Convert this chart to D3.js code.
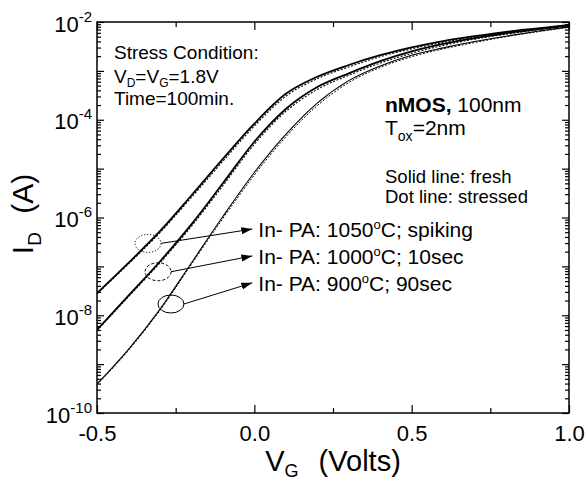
<!DOCTYPE html>
<html>
<head>
<meta charset="utf-8">
<script src="https://cdn.jsdelivr.net/npm/d3@7"></script>
<style>
  html, body { margin: 0; padding: 0; background: #fff; }
  svg { display: block; font-family: "Liberation Sans", Arial, Helvetica, sans-serif; }
</style>
</head>
<body>
<svg id="chart" width="586" height="483"></svg>
<script>
// Gate voltage sweep (V)
const vg = [-0.5, -0.4, -0.3, -0.2, -0.1, 0.0, 0.1, 0.2, 0.3, 0.4, 0.5, 0.6, 0.7, 0.8, 0.9, 1.0];

// log10 of drain current I_D (A): fresh devices (solid) and after stress (dotted)
const fresh1050    = [-7.55, -6.93, -6.28, -5.55, -4.80, -4.08, -3.47, -3.12, -2.88, -2.68, -2.52, -2.39, -2.29, -2.20, -2.13, -2.06];
const stressed1050 = [-7.56, -6.95, -6.31, -5.59, -4.85, -4.13, -3.52, -3.16, -2.92, -2.71, -2.55, -2.42, -2.31, -2.22, -2.14, -2.07];
const fresh1000    = [-8.30, -7.60, -6.90, -6.14, -5.30, -4.45, -3.78, -3.33, -3.05, -2.80, -2.60, -2.45, -2.33, -2.23, -2.15, -2.07];
const stressed1000 = [-8.31, -7.62, -6.93, -6.18, -5.35, -4.50, -3.83, -3.38, -3.09, -2.84, -2.64, -2.48, -2.35, -2.25, -2.16, -2.08];
const fresh900     = [-9.41, -8.70, -7.88, -6.93, -5.98, -5.08, -4.30, -3.66, -3.20, -2.90, -2.68, -2.53, -2.40, -2.29, -2.19, -2.10];
const stressed900  = [-9.42, -8.72, -7.90, -6.96, -6.02, -5.13, -4.35, -3.71, -3.24, -2.93, -2.71, -2.55, -2.42, -2.30, -2.20, -2.11];

// Axis ticks
const xTicks = [-0.5, 0.0, 0.5, 1.0];
const xTickLabels = ["-0.5", "0.0", "0.5", "1.0"];
const xMinorTicks = [-0.25, 0.25, 0.75];
const yDecades = [-10, -9, -8, -7, -6, -5, -4, -3, -2];
const yLabelExponents = [-10, -8, -6, -4, -2];

// Call-outs: oval centre (V, log10 I) and label text for each anneal
const ovalV = [-0.338, -0.306, -0.265];
const ovalLogI = [-6.53, -7.11, -7.77];
const annealTemps = ["1050", "1000", "900"];
const annealTimes = ["spiking", "10sec", "90sec"];
const labelLogI = [-6.40, -6.95, -7.50];

const svg = d3.select("#chart");
const margin = { left: 97, top: 22, right: 569, bottom: 413 };

const x = d3.scaleLinear().domain([-0.5, 1.0]).range([margin.left, margin.right]);
const y = d3.scaleLog().domain([1e-10, 1e-2]).range([margin.bottom, margin.top]);

const yMajor = yDecades.map(e => Math.pow(10, e));
const yMinor = [];
yDecades.slice(0, -1).forEach(e => {
  for (let k = 2; k <= 9; k++) yMinor.push(k * Math.pow(10, e));
});

// Clip for the curves
svg.append("defs").append("clipPath").attr("id", "plotClip")
  .append("rect")
  .attr("x", margin.left).attr("y", margin.top)
  .attr("width", margin.right - margin.left).attr("height", margin.bottom - margin.top);

const marker = svg.select("defs").append("marker")
  .attr("id", "arrowHead")
  .attr("markerUnits", "userSpaceOnUse")
  .attr("markerWidth", 12).attr("markerHeight", 8)
  .attr("refX", 11).attr("refY", 3.5)
  .attr("orient", "auto");
marker.append("path").attr("d", "M0,0 L11,3.5 L0,7 Z").attr("fill", "#000");

function styleAxis(g) {
  g.select(".domain").remove();
  g.selectAll(".tick line").attr("stroke", "#000").attr("stroke-width", 1.2);
}

// Left / right decade ticks and minor log ticks, all pointing inward
svg.append("g").attr("transform", `translate(${margin.left},0)`)
  .call(d3.axisLeft(y).tickValues(yMajor).tickSize(-7).tickFormat(""))
  .call(styleAxis);
svg.append("g").attr("transform", `translate(${margin.left},0)`)
  .call(d3.axisLeft(y).tickValues(yMinor).tickSize(-4).tickFormat(""))
  .call(styleAxis);
svg.append("g").attr("transform", `translate(${margin.right},0)`)
  .call(d3.axisRight(y).tickValues(yMajor).tickSize(-7).tickFormat(""))
  .call(styleAxis);
svg.append("g").attr("transform", `translate(${margin.right},0)`)
  .call(d3.axisRight(y).tickValues(yMinor).tickSize(-4).tickFormat(""))
  .call(styleAxis);

// Bottom / top voltage ticks
const xAxisBottom = svg.append("g").attr("transform", `translate(0,${margin.bottom})`)
  .call(d3.axisBottom(x).tickValues(xTicks).tickSize(-8).tickPadding(12)
    .tickFormat((d, i) => xTickLabels[i]))
  .call(styleAxis);
xAxisBottom.selectAll(".tick text")
  .attr("fill", "#000").attr("font-size", 22)
  .attr("font-family", "'Liberation Sans', Arial, sans-serif");
svg.append("g").attr("transform", `translate(0,${margin.bottom})`)
  .call(d3.axisBottom(x).tickValues(xMinorTicks).tickSize(-5).tickFormat(""))
  .call(styleAxis);
svg.append("g").attr("transform", `translate(0,${margin.top})`)
  .call(d3.axisTop(x).tickValues(xTicks).tickSize(-8).tickFormat(""))
  .call(styleAxis);
svg.append("g").attr("transform", `translate(0,${margin.top})`)
  .call(d3.axisTop(x).tickValues(xMinorTicks).tickSize(-5).tickFormat(""))
  .call(styleAxis);

// Power-of-ten labels on the left axis
const yLab = svg.append("g").selectAll("text")
  .data(yLabelExponents)
  .join("text")
  .attr("text-anchor", "end")
  .attr("x", margin.left - 5)
  .attr("y", e => y(Math.pow(10, e)) + 9.5)
  .attr("fill", "#000");
yLab.append("tspan").attr("font-size", 22).text("10");
yLab.append("tspan").attr("font-size", 15).attr("dy", -10).text(e => "-" + Math.abs(e));

// Plot frame
svg.append("rect")
  .attr("x", margin.left).attr("y", margin.top)
  .attr("width", margin.right - margin.left).attr("height", margin.bottom - margin.top)
  .attr("fill", "none").attr("stroke", "#000").attr("stroke-width", 1.5);

// Transfer curves
const line = d3.line()
  .x(d => x(d[0]))
  .y(d => y(Math.pow(10, d[1])))
  .curve(d3.curveMonotoneX);

const series = [
  { v: fresh1050, width: 1.8, dash: null },
  { v: fresh1000, width: 1.8, dash: null },
  { v: fresh900, width: 1.1, dash: null },
  { v: stressed1050, width: 1.1, dash: "2,1.6" },
  { v: stressed1000, width: 1.1, dash: "2,1.6" },
  { v: stressed900, width: 1.0, dash: "2,1.6" }
];

const curves = svg.append("g").attr("clip-path", "url(#plotClip)");
series.forEach(s => {
  curves.append("path")
    .datum(vg.map((v, i) => [v, s.v[i]]))
    .attr("d", line)
    .attr("fill", "none")
    .attr("stroke", "#000")
    .attr("stroke-width", s.width)
    .attr("stroke-dasharray", s.dash);
});

// Ovals with arrows pointing to the anneal labels
const ovalDash = ["1.2,1.8", "3,2", null];
const ann = svg.append("g");
ovalV.forEach((v, i) => {
  const cx = x(v), cy = y(Math.pow(10, ovalLogI[i]));
  ann.append("ellipse")
    .attr("cx", cx).attr("cy", cy).attr("rx", 13).attr("ry", 9)
    .attr("fill", "none").attr("stroke", "#000").attr("stroke-width", 1)
    .attr("stroke-dasharray", ovalDash[i]);
  const ly = y(Math.pow(10, labelLogI[i]));
  ann.append("line")
    .attr("x1", cx + 13).attr("y1", cy)
    .attr("x2", x(0) - 2).attr("y2", ly - 8)
    .attr("stroke", "#000").attr("stroke-width", 1)
    .attr("marker-end", "url(#arrowHead)");
  const t = ann.append("text")
    .attr("x", x(0) + 4).attr("y", ly)
    .attr("font-size", 21).attr("fill", "#000");
  t.append("tspan").text(`In- PA: ${annealTemps[i]}`);
  t.append("tspan").attr("font-size", 13).attr("dy", -8).text("o");
  t.append("tspan").attr("dy", 8).text(`C; ${annealTimes[i]}`);
});

// Stress condition block
const note = svg.append("g").attr("fill", "#000");
note.append("text").attr("x", 114).attr("y", 59).attr("font-size", 19).text("Stress Condition:");
const vd = note.append("text").attr("x", 114).attr("y", 83).attr("font-size", 19);
vd.append("tspan").text("V");
vd.append("tspan").attr("font-size", 12).attr("dy", 3.5).text("D");
vd.append("tspan").attr("dy", -3.5).text("=V");
vd.append("tspan").attr("font-size", 12).attr("dy", 3.5).text("G");
vd.append("tspan").attr("dy", -3.5).text("=1.8V");
note.append("text").attr("x", 114).attr("y", 105).attr("font-size", 19).text("Time=100min.");

// Device description block
const dev = svg.append("g").attr("fill", "#000");
const nm = dev.append("text").attr("x", 385).attr("y", 112).attr("font-size", 21);
nm.append("tspan").attr("font-weight", "bold").text("nMOS,");
nm.append("tspan").text(" 100nm");
const tox = dev.append("text").attr("x", 385).attr("y", 135).attr("font-size", 21);
tox.append("tspan").text("T");
tox.append("tspan").attr("font-size", 14).attr("dy", 6).text("ox");
tox.append("tspan").attr("dy", -6).text("=2nm");
dev.append("text").attr("x", 385).attr("y", 183).attr("font-size", 18.5).text("Solid line: fresh");
dev.append("text").attr("x", 385).attr("y", 203).attr("font-size", 18.5).text("Dot line: stressed");

// Axis titles
const xt = svg.append("text")
  .attr("x", (margin.left + margin.right) / 2).attr("y", 471)
  .attr("text-anchor", "middle").attr("font-size", 29).attr("fill", "#000");
xt.append("tspan").text("V");
xt.append("tspan").attr("font-size", 18).attr("dy", 6).text("G");
xt.append("tspan").attr("dy", -6).attr("dx", 12).text(" (Volts)");

const yt = svg.append("text")
  .attr("transform", `translate(33,214) rotate(-90)`)
  .attr("text-anchor", "middle").attr("font-size", 30).attr("fill", "#000");
yt.append("tspan").text("I");
yt.append("tspan").attr("font-size", 19).attr("dy", 8).text("D");
yt.append("tspan").attr("dy", -8).attr("dx", 10).text(" (A)");
</script>
</body>
</html>
